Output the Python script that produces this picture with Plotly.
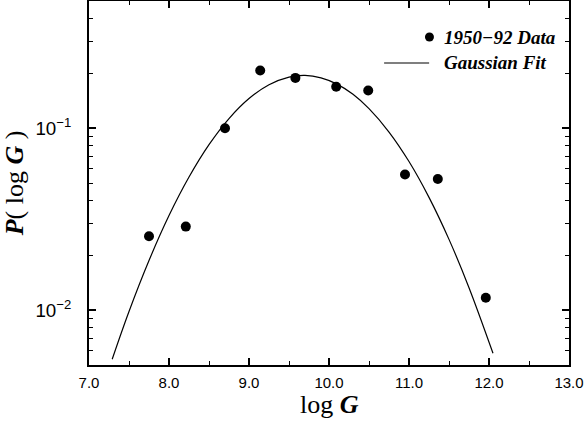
import plotly.graph_objects as go

# measured distribution, 1950-92
data_log_g = [7.75, 8.21, 8.70, 9.14, 9.58, 10.09, 10.49, 10.95, 11.36, 11.96]
data_p = [0.0255, 0.0288, 0.100, 0.2075, 0.189, 0.169, 0.161, 0.0557, 0.0526, 0.0117]

# gaussian fit curve
fit_log_g = [7.29, 7.5, 7.75, 8.0, 8.25, 8.5, 8.75, 9.0, 9.25, 9.5, 9.7,
             9.9, 10.1, 10.3, 10.5, 10.75, 11.0, 11.25, 11.5, 11.75, 12.05]
fit_p = [0.00538, 0.00984, 0.01875, 0.0331, 0.0539, 0.0812, 0.113, 0.1456,
         0.1734, 0.191, 0.195, 0.189, 0.1747, 0.1535, 0.128, 0.0953, 0.0656,
         0.0417, 0.0245, 0.0133, 0.0058]

x_ticks = [7, 8, 9, 10, 11, 12, 13]
x_tick_text = ["7.0", "8.0", "9.0", "10.0", "11.0", "12.0", "13.0"]

legend_labels = ["1950\u221292 Data", "Gaussian Fit"]

SERIF = "Liberation Serif, Times New Roman, serif"
SANS = "Liberation Sans, Arial, sans-serif"

fig = go.Figure()

fig.add_trace(go.Scatter(
    x=fit_log_g,
    y=fit_p,
    mode="lines",
    line=dict(color="black", width=1.2, shape="spline"),
    showlegend=False,
))

fig.add_trace(go.Scatter(
    x=data_log_g,
    y=data_p,
    mode="markers",
    marker=dict(color="black", size=10),
    showlegend=False,
))

axis_common = dict(
    showline=True,
    linecolor="black",
    linewidth=1.5,
    mirror="ticks",
    ticks="inside",
    ticklen=7,
    tickwidth=1.5,
    tickcolor="black",
    showgrid=False,
    zeroline=False,
    automargin=False,
    tickfont=dict(family=SANS, size=15, color="black"),
)

fig.update_xaxes(
    **axis_common,
    range=[7, 13],
    tickvals=x_ticks,
    ticktext=x_tick_text,
    ticklabelstandoff=3,
    minor=dict(ticks="inside", ticklen=4, dtick=0.5, tickcolor="black", tickwidth=1.2),
)

fig.update_yaxes(
    **axis_common,
    type="log",
    range=[-2.30103, -0.30103],
    dtick=1,
    exponentformat="power",
    ticklabelstandoff=13,
    minor=dict(ticks="inside", ticklen=4, dtick="D1", tickcolor="black", tickwidth=1.2),
    title=dict(
        text="<b><i>P</i></b>( log <b><i>G</i></b> )",
        font=dict(family=SERIF, size=26, color="black"),
        standoff=6,
    ),
)

# x title as an annotation so it can sit closer to the tick labels
fig.add_annotation(xref="paper", yref="paper", x=0.5, y=0,
                   xanchor="center", yanchor="top", yshift=-24,
                   borderpad=0, showarrow=False, text="log <b><i>G</i></b>",
                   font=dict(family=SERIF, size=26, color="black"))

# hand-drawn legend, marker sits at the end of the line like the original
legend_font = dict(family=SERIF, size=19, color="black")
fig.add_annotation(xref="paper", yref="paper", x=0.7356, y=0.901,
                   xanchor="left", yanchor="middle", showarrow=False,
                   text="<b><i>" + legend_labels[0] + "</i></b>", font=legend_font)
fig.add_annotation(xref="paper", yref="paper", x=0.7356, y=0.8297,
                   xanchor="left", yanchor="middle", showarrow=False,
                   text="<b><i>" + legend_labels[1] + "</i></b>", font=legend_font)
fig.add_shape(type="line", xref="paper", yref="paper",
              x0=0.6148, x1=0.7086, y0=0.8297, y1=0.8297,
              line=dict(color="black", width=1.2))
fig.add_shape(type="circle", xref="paper", yref="paper",
              xsizemode="pixel", ysizemode="pixel",
              xanchor=0.7093, yanchor=0.901,
              x0=-4.5, x1=4.5, y0=-4.5, y1=4.5,
              fillcolor="black", line=dict(color="black", width=0))

fig.update_layout(
    width=588,
    height=424,
    margin=dict(l=89, r=19, t=1, b=59),
    paper_bgcolor="white",
    plot_bgcolor="white",
)

# drop the default page margin so the figure sits at the window's corner
fig.write_html("out.html", config={"displayModeBar": False},
               post_script="document.body.style.margin='0';")
